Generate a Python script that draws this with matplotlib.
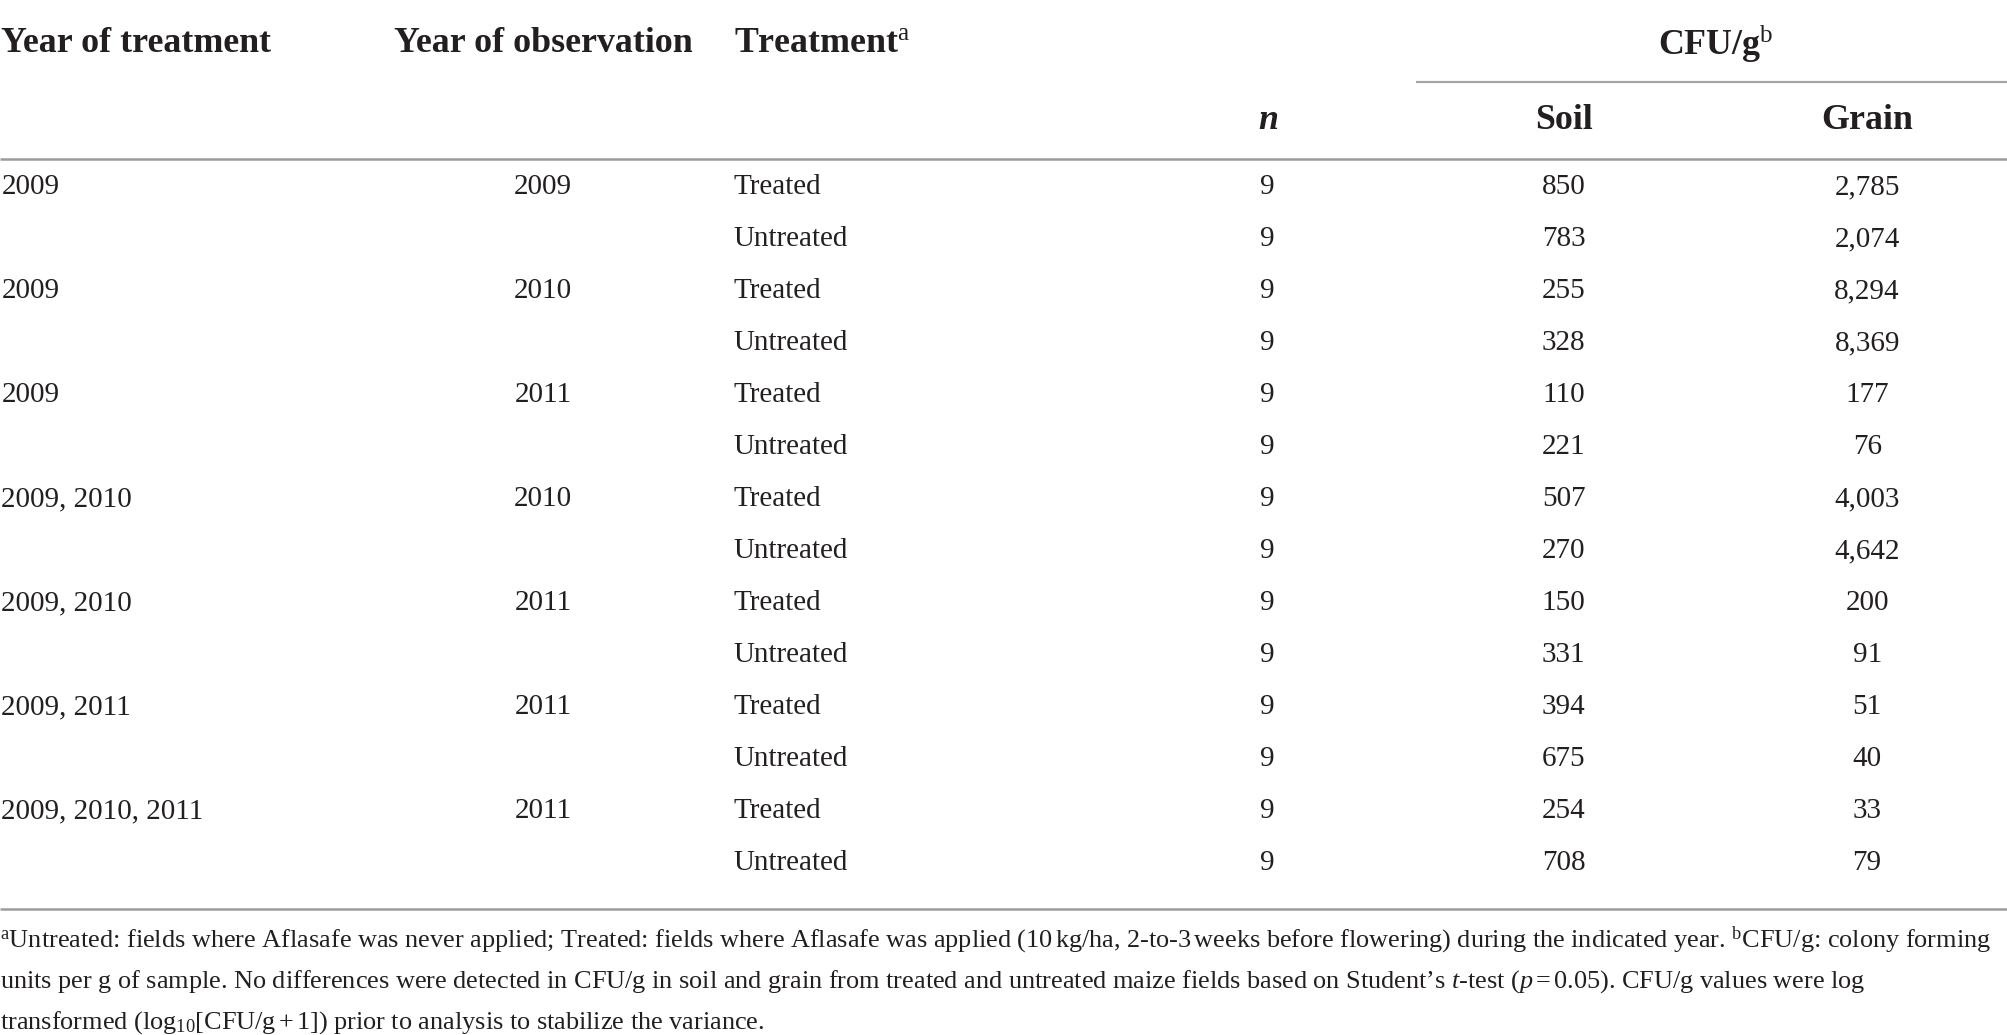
import matplotlib
matplotlib.use("Agg")
import matplotlib.pyplot as plt

# --- datos de la tabla -------------------------------------------------------
year_treatment = ["2009", "2009", "2009", "2009, 2010", "2009, 2010",
                  "2009, 2011", "2009, 2010, 2011"]
year_observation = ["2009", "2010", "2011", "2010", "2011", "2011", "2011"]
treatments = ["Treated", "Untreated"]
n_obs = [9, 9, 9, 9, 9, 9, 9, 9, 9, 9, 9, 9, 9, 9]
soil = [850, 783, 255, 328, 110, 221, 507, 270, 150, 331, 394, 675, 254, 708]
grain = [2785, 2074, 8294, 8369, 177, 76, 4003, 4642, 200, 91, 51, 40, 33, 79]

headers = ["Year of treatment", "Year of observation", r"Treatment$^{\mathrm{a}}$"]
group_header = r"CFU/g$^{\mathrm{b}}$"
sub_headers = ["Soil", "Grain"]

footnotes = [
    r"$^{\mathrm{a}}$Untreated: fields where Aflasafe was never applied; Treated: fields where Aflasafe was applied "
    r"(10$\,$kg/ha, 2-to-3$\,$weeks before flowering) during the indicated year. $^{\mathrm{b}}$CFU/g: colony forming",
    r"units per g of sample. No differences were detected in CFU/g in soil and grain from treated and untreated "
    r"maize fields based on Student’s $\mathit{t}$-test ($\mathit{p}\,$=$\,$0.05). CFU/g values were log",
    r"transformed (log$_{10}$[CFU/g$\,$+$\,$1]) prior to analysis to stabilize the variance.",
]

# --- estilo ------------------------------------------------------------------
plt.rcParams["font.family"] = ["Liberation Serif", "DejaVu Serif"]
plt.rcParams["mathtext.fontset"] = "custom"
plt.rcParams["mathtext.rm"] = "Liberation Serif"
plt.rcParams["mathtext.it"] = "Liberation Serif:italic"
plt.rcParams["mathtext.bf"] = "Liberation Serif:bold"

TXT = "#231f20"
LINEA = "#a6a6a6"
FS_HEAD = 25.8
FS_BODY = 21
FS_NOTE = 18.9

fig = plt.figure(figsize=(20.08, 10.35), dpi=100)
ax = fig.add_axes([0, 0, 1, 1])
ax.set_xlim(0, 1568)
ax.set_ylim(808, 0)
ax.axis("off")

# columnas (x) y filas (y)
x_col0, x_col1, x_col1c, x_col2 = 1, 308, 424, 573
x_n, x_soil, x_grain = 990, 1221, 1458
y_h1, y_h2 = 34, 94
y0, dy = 146, 40.6

# encabezados
for x, h in zip([x_col0, x_col1, x_col2], headers):
    ax.text(x, y_h1, h, fontsize=FS_HEAD, fontweight="bold", color=TXT,
            ha="left", va="center")
ax.text((x_soil + x_grain) / 2, y_h1, group_header, fontsize=FS_HEAD,
        fontweight="bold", color=TXT, ha="center", va="center")
ax.text(x_n, y_h2, "n", fontsize=FS_HEAD, fontweight="bold", style="italic",
        color=TXT, ha="center", va="center")
for x, h in zip([x_soil, x_grain], sub_headers):
    ax.text(x, y_h2, h, fontsize=FS_HEAD, fontweight="bold", color=TXT,
            ha="center", va="center")

# reglas
ax.plot([1106, 1568], [64, 64], color=LINEA, lw=1.6, solid_capstyle="butt")
ax.plot([0, 1568], [124.5, 124.5], color="#9c9c9c", lw=1.8, solid_capstyle="butt")
ax.plot([0, 1568], [710, 710], color="#9c9c9c", lw=1.8, solid_capstyle="butt")

# filas de datos
for i in range(len(soil)):
    y = y0 + dy * i
    g = i // 2
    if i % 2 == 0:
        ax.text(x_col0, y, year_treatment[g], fontsize=FS_BODY, color=TXT,
                ha="left", va="center")
        ax.text(x_col1c, y, year_observation[g], fontsize=FS_BODY, color=TXT,
                ha="center", va="center")
    ax.text(x_col2, y, treatments[i % 2], fontsize=FS_BODY, color=TXT,
            ha="left", va="center")
    ax.text(x_n, y, str(n_obs[i]), fontsize=FS_BODY, color=TXT,
            ha="center", va="center")
    ax.text(x_soil, y, f"{soil[i]:,}", fontsize=FS_BODY, color=TXT,
            ha="center", va="center")
    ax.text(x_grain, y, f"{grain[i]:,}", fontsize=FS_BODY, color=TXT,
            ha="center", va="center")

# notas al pie
for j, nota in enumerate(footnotes):
    ax.text(0, 734 + 32 * j, nota, fontsize=FS_NOTE, color=TXT,
            ha="left", va="center")

fig.savefig("out.png", dpi=100)
